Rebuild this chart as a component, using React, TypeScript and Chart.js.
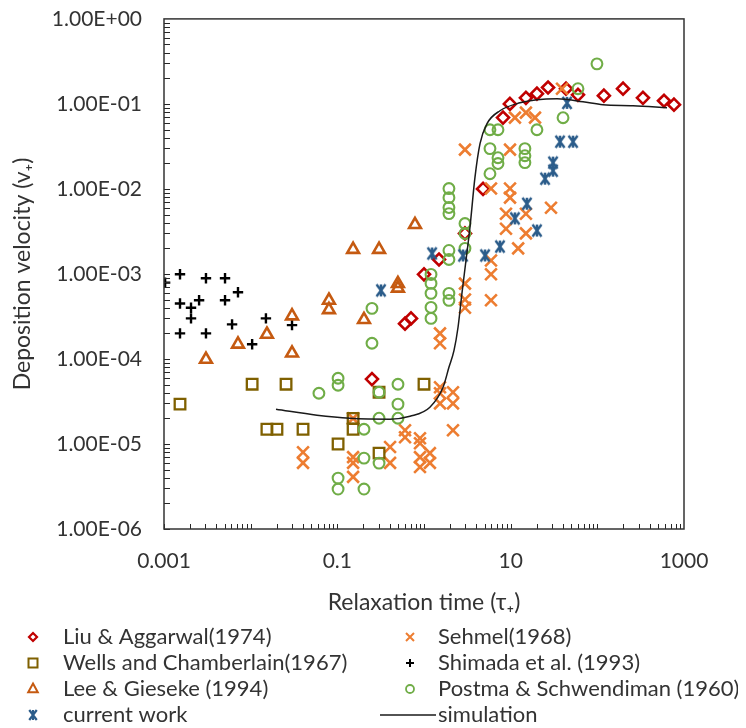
import React, { useEffect, useRef } from 'react';
import { Chart, registerables } from 'chart.js';
Chart.register(...registerables);

const FONT = "Lato, 'DejaVu Sans', sans-serif";
const TEXT = '#333333';

// ---- axis ticks ----
const xTickValues = [0.001, 0.1, 10, 1000];
const yTickValues = [1e-6, 1e-5, 1e-4, 1e-3, 1e-2, 1e-1, 1];

// ---- series data (relaxation time tau+, deposition velocity v+) ----
const liuTau = [0.251, 0.604, 0.708, 1.0, 1.49, 2.97, 4.8, 8.16, 9.8, 15, 20.1, 27, 43.5, 59.8, 119, 198, 336, 588, 766];
const liuVel = [5.8e-5, 2.6e-4, 3.0e-4, 9.9e-4, 1.48e-3, 3.0e-3, 1.0e-2, 6.9e-2, 0.1, 0.118, 0.132, 0.156, 0.151, 0.128, 0.125, 0.151, 0.118, 0.109, 0.098];

const wellsTau = [0.00153, 0.0104, 0.0256, 0.0154, 0.0201, 0.0402, 0.152, 0.152, 0.102, 0.303, 0.303, 1.0];
const wellsVel = [2.94e-5, 5.05e-5, 5.05e-5, 1.49e-5, 1.49e-5, 1.49e-5, 2.0e-5, 1.49e-5, 1.0e-5, 4.06e-5, 7.8e-6, 5.05e-5];

const leeTau = [0.00305, 0.00714, 0.0154, 0.03, 0.03, 0.08, 0.08, 0.152, 0.203, 0.303, 0.5, 0.5, 0.787];
const leeVel = [9.9e-5, 1.49e-4, 1.95e-4, 3.2e-4, 1.17e-4, 4.9e-4, 3.8e-4, 1.94e-3, 2.9e-4, 1.94e-3, 7.7e-4, 6.8e-4, 3.8e-3];

const currentTau = [0.319, 1.24, 2.82, 5.06, 7.53, 11.2, 15.4, 20.1, 24.9, 30.8, 30.8, 37.1, 52.4, 44.7];
const currentVel = [6.4e-4, 1.74e-3, 1.65e-3, 1.65e-3, 2.1e-3, 4.5e-3, 6.7e-3, 3.24e-3, 1.32e-2, 2.04e-2, 1.64e-2, 3.6e-2, 3.6e-2, 0.103];

const sehmelTau = [0.0402, 0.0402, 0.152, 0.152, 0.152, 0.152, 0.406, 0.406, 0.604, 0.604, 0.899, 0.899, 0.899, 0.899, 1.17, 1.17, 1.53, 1.53, 1.53, 1.53, 1.53, 2.16, 2.16, 2.16, 2.97, 2.97, 2.97, 2.97, 5.93, 5.93, 5.93, 5.93, 8.83, 8.83, 9.83, 9.83, 9.83, 11.2, 15.0, 19.1, 15.0, 15.0, 12.2, 29.2, 39.1];
const sehmelVel = [8.0e-6, 6.0e-6, 2.0e-5, 7.0e-6, 6.0e-6, 4.1e-6, 9.2e-6, 6.0e-6, 1.45e-5, 1.2e-5, 1.17e-5, 1.02e-5, 7.0e-6, 5.35e-6, 7.8e-6, 6.0e-6, 2.0e-4, 1.53e-4, 4.65e-5, 3.95e-5, 3.0e-5, 4.06e-5, 3.0e-5, 1.45e-5, 7.7e-4, 5.0e-4, 4.0e-4, 2.9e-2, 1.44e-3, 9.9e-4, 4.9e-4, 1.01e-2, 5.1e-3, 3.4e-3, 2.9e-2, 1.01e-2, 7.9e-3, 6.9e-2, 7.9e-2, 6.9e-2, 5.1e-3, 3.0e-3, 2.0e-3, 6.0e-3, 0.151];

const shimadaTau = [0.00103, 0.00153, 0.00153, 0.00153, 0.00205, 0.00205, 0.00254, 0.00305, 0.00305, 0.00506, 0.00506, 0.0061, 0.00714, 0.0104, 0.015, 0.03];
const shimadaVel = [7.9e-4, 9.9e-4, 4.5e-4, 2.0e-4, 4.0e-4, 3.0e-4, 4.9e-4, 8.9e-4, 2.0e-4, 8.9e-4, 4.9e-4, 2.55e-4, 6.1e-4, 1.49e-4, 3.0e-4, 2.5e-4];

const postmaTau = [0.0613, 0.102, 0.102, 0.102, 0.102, 0.203, 0.203, 0.203, 0.251, 0.251, 0.303, 0.303, 0.303, 0.501, 0.501, 0.501, 1.205, 1.205, 1.205, 1.205, 1.205, 1.94, 1.94, 1.94, 1.94, 1.94, 1.94, 1.94, 1.94, 2.97, 2.97, 2.97, 5.77, 7.14, 5.77, 7.14, 7.14, 5.77, 14.6, 14.6, 14.6, 20.1, 40.2, 59.8, 99];
const postmaVel = [3.95e-5, 5.93e-5, 4.91e-5, 3.97e-6, 2.95e-6, 1.49e-5, 6.82e-6, 2.95e-6, 3.94e-4, 1.53e-4, 4.06e-5, 2.01e-5, 5.96e-6, 5.04e-5, 2.94e-5, 2.01e-5, 9.87e-4, 7.74e-4, 5.91e-4, 4.04e-4, 3.0e-4, 1.01e-2, 7.9e-3, 6.04e-3, 5.13e-3, 1.89e-3, 1.48e-3, 5.91e-4, 4.89e-4, 3.92e-3, 2.99e-3, 2.0e-3, 4.97e-2, 4.97e-2, 2.98e-2, 2.33e-2, 1.99e-2, 1.51e-2, 2.98e-2, 2.46e-2, 2.04e-2, 4.97e-2, 6.88e-2, 0.151, 0.296];

const simTau = [0.0196, 0.0582, 0.14, 0.406, 0.689, 1.17, 1.66, 1.94, 2.22, 2.47, 2.74, 3.05, 3.39, 3.87, 4.43, 5.33, 7.53, 12.8, 20.1, 34.3, 68.3, 116, 258, 637];
const simVel = [2.56e-5, 2.18e-5, 2.01e-5, 1.96e-5, 2.12e-5, 2.71e-5, 4.65e-5, 7.98e-5, 1.26e-4, 2.36e-4, 5.91e-4, 1.44e-3, 3.52e-3, 1.36e-2, 3.41e-2, 5.85e-2, 8.31e-2, 0.103, 0.112, 0.115, 0.106, 0.0978, 0.0952, 0.0902];

const zip = (xs: number[], ys: number[]) => xs.map((x, i) => ({ x, y: ys[i] }));

function fmtSci(v: number) {
  const e = Math.round(Math.log10(v));
  const m = v / Math.pow(10, e);
  return m.toFixed(2) + 'E' + (e < 0 ? '-' : '+') + String(Math.abs(e)).padStart(2, '0');
}

const C_LIU = '#C00000';
const C_WELLS = '#7F6000';
const C_LEE = '#C55A11';
const C_CUR = '#2B5C8A';
const C_SEH = '#ED7D31';
const C_SHI = '#000000';
const C_POS = '#70AD47';
const C_SIM = '#1a1a1a';

function makeStar(size: number, color: string, lw: number) {
  const c = document.createElement('canvas');
  c.width = size; c.height = size;
  const g = c.getContext('2d')!;
  g.strokeStyle = color; g.lineWidth = lw;
  const m = size / 2, a = size / 2 - 2;
  g.beginPath();
  g.moveTo(m - a * 0.75, m - a); g.lineTo(m + a * 0.75, m + a);
  g.moveTo(m + a * 0.75, m - a); g.lineTo(m - a * 0.75, m + a);
  g.moveTo(m, m - a); g.lineTo(m, m + a);
  g.stroke();
  return c;
}

function drawMarker(ctx: CanvasRenderingContext2D, style: string, x: number, y: number, r: number, color: string, lw: number) {
  ctx.save();
  ctx.strokeStyle = color; ctx.lineWidth = lw;
  ctx.beginPath();
  if (style === 'rectRot') {
    ctx.moveTo(x, y - r); ctx.lineTo(x + r, y); ctx.lineTo(x, y + r); ctx.lineTo(x - r, y); ctx.closePath();
  } else if (style === 'rect') {
    ctx.rect(x - r, y - r, 2 * r, 2 * r);
  } else if (style === 'triangle') {
    ctx.moveTo(x, y - r); ctx.lineTo(x + r * 0.87, y + r * 0.6); ctx.lineTo(x - r * 0.87, y + r * 0.6); ctx.closePath();
  } else if (style === 'circle') {
    ctx.arc(x, y, r, 0, Math.PI * 2);
  } else if (style === 'crossRot') {
    ctx.moveTo(x - r, y - r); ctx.lineTo(x + r, y + r); ctx.moveTo(x + r, y - r); ctx.lineTo(x - r, y + r);
  } else if (style === 'cross') {
    ctx.moveTo(x - r, y); ctx.lineTo(x + r, y); ctx.moveTo(x, y - r); ctx.lineTo(x, y + r);
  } else if (style === 'star') {
    ctx.moveTo(x - r * 0.75, y - r); ctx.lineTo(x + r * 0.75, y + r); ctx.moveTo(x + r * 0.75, y - r); ctx.lineTo(x - r * 0.75, y + r);
    ctx.moveTo(x, y - r); ctx.lineTo(x, y + r);
  }
  ctx.stroke();
  ctx.restore();
}

const legendCol1 = ['Liu & Aggarwal(1974)', 'Wells and Chamberlain(1967)', 'Lee & Gieseke (1994)', 'current work'];
const legendCol2 = ['Sehmel(1968)', 'Shimada et al. (1993)', 'Postma & Schwendiman (1960)', 'simulation'];

const framePlugin = {
  id: 'frameTicks',
  afterDatasetsDraw(chart: any) {
    const { ctx, chartArea, scales } = chart;
    const { left, right, top, bottom } = chartArea;
    const xs = scales.x, ys = scales.y;
    ctx.save();
    ctx.strokeStyle = '#262626';
    ctx.lineWidth = 1;
    ctx.beginPath();
    for (let k = -3; k <= 2; k++) {
      for (let m = 1; m <= 9; m++) {
        const px = Math.round(xs.getPixelForValue(m * Math.pow(10, k))) + 0.5;
        ctx.moveTo(px, bottom); ctx.lineTo(px, bottom - 5);
      }
    }
    for (let k = -6; k <= -1; k++) {
      for (let m = 1; m <= 9; m++) {
        const py = Math.round(ys.getPixelForValue(m * Math.pow(10, k))) + 0.5;
        ctx.moveTo(left, py); ctx.lineTo(left + 6, py);
      }
    }
    ctx.stroke();
    ctx.lineWidth = 1.5;
    ctx.strokeStyle = '#333333';
    ctx.strokeRect(left, top, right - left, bottom - top);
    ctx.restore();
  },
  afterDraw(chart: any) {
    const { ctx } = chart;
    const rows = [629, 655, 681, 707];
    const styles1 = [['rectRot', C_LIU, 4, 2.2], ['rect', C_WELLS, 4.5, 2], ['triangle', C_LEE, 5.5, 2], ['star', C_CUR, 5, 2.2]];
    const styles2 = [['crossRot', C_SEH, 4, 2], ['cross', C_SHI, 4, 2], ['circle', C_POS, 4, 1.8]];
    ctx.save();
    ctx.font = `22px ${FONT}`;
    ctx.fillStyle = TEXT;
    ctx.textBaseline = 'middle';
    ctx.textAlign = 'left';
    legendCol1.forEach((t, i) => {
      const s: any = styles1[i];
      drawMarker(ctx, s[0], 25, rows[i], s[2], s[1], s[3]);
      ctx.fillText(t, 55, rows[i]);
    });
    legendCol2.forEach((t, i) => {
      if (i < 3) {
        const s: any = styles2[i];
        drawMarker(ctx, s[0], 402, rows[i], s[2], s[1], s[3]);
      } else {
        ctx.save();
        ctx.strokeStyle = C_SIM; ctx.lineWidth = 1.5;
        ctx.beginPath(); ctx.moveTo(372, rows[i]); ctx.lineTo(428, rows[i]); ctx.stroke();
        ctx.restore();
      }
      ctx.fillText(t, 430, rows[i]);
    });
    ctx.restore();
  },
};

export default function App() {
  const ref = useRef<HTMLCanvasElement>(null);
  useEffect(() => {
    const star = makeStar(16, C_CUR, 2.5);
    const base = { showLine: false, pointBackgroundColor: 'rgba(0,0,0,0)', backgroundColor: 'rgba(0,0,0,0)' };
    const datasets: any[] = [
      { ...base, label: 'Liu & Aggarwal(1974)', data: zip(liuTau, liuVel), pointStyle: 'rectRot', pointRadius: 6, pointBorderWidth: 2.6, pointBorderColor: C_LIU, borderColor: C_LIU },
      { ...base, label: 'Sehmel(1968)', data: zip(sehmelTau, sehmelVel), pointStyle: 'crossRot', pointRadius: 8.3, pointBorderWidth: 2.6, pointBorderColor: C_SEH, borderColor: C_SEH },
      { ...base, label: 'Wells and Chamberlain(1967)', data: zip(wellsTau, wellsVel), pointStyle: 'rect', pointRadius: 7.5, pointBorderWidth: 2.3, pointBorderColor: C_WELLS, borderColor: C_WELLS },
      { ...base, label: 'Shimada et al. (1993)', data: zip(shimadaTau, shimadaVel), pointStyle: 'cross', pointRadius: 5.2, pointBorderWidth: 2.4, pointBorderColor: C_SHI, borderColor: C_SHI },
      { ...base, label: 'Lee & Gieseke (1994)', data: zip(leeTau, leeVel), pointStyle: 'triangle', pointRadius: 6.8, pointBorderWidth: 2.6, pointBorderColor: C_LEE, borderColor: C_LEE },
      { ...base, label: 'Postma & Schwendiman (1960)', data: zip(postmaTau, postmaVel), pointStyle: 'circle', pointRadius: 5.4, pointBorderWidth: 2.1, pointBorderColor: C_POS, borderColor: C_POS },
      { ...base, label: 'current work', data: zip(currentTau, currentVel), pointStyle: star, pointRadius: 6, pointBorderColor: C_CUR, borderColor: C_CUR },
      { label: 'simulation', data: zip(simTau, simVel), showLine: true, pointRadius: 0, borderColor: C_SIM, borderWidth: 1.5, cubicInterpolationMode: 'monotone', fill: false },
    ];
    datasets.forEach((d, i) => { d.order = datasets.length - i; });

    const chart = new Chart(ref.current!, {
      type: 'scatter',
      data: { datasets },
      plugins: [framePlugin],
      options: {
        animation: false,
        responsive: false,
        events: [],
        layout: { padding: { left: 0, right: 54, top: 10, bottom: 109 } },
        plugins: { legend: { display: false }, tooltip: { enabled: false } },
        scales: {
          x: {
            type: 'logarithmic',
            position: 'bottom',
            min: 0.001,
            max: 1000,
            grid: { display: false, drawTicks: false },
            border: { display: false },
            ticks: { font: { family: FONT, size: 21 }, color: TEXT, padding: 20, autoSkip: false, maxRotation: 0, callback: (v: any) => String(v) },
            afterBuildTicks: (s: any) => { s.ticks = xTickValues.map((v) => ({ value: v })); },
            afterFit: (s: any) => { s.height = 90; },
            title: { display: true, text: 'Relaxation time (τ₊)', font: { family: FONT, size: 23 }, color: TEXT, padding: { top: 0, bottom: 3 } },
          },
          y: {
            type: 'logarithmic',
            position: 'left',
            min: 1e-6,
            max: 1,
            grid: { display: false, drawTicks: false },
            border: { display: false },
            ticks: { font: { family: FONT, size: 21 }, color: TEXT, padding: 22, autoSkip: false, callback: (v: any) => fmtSci(Number(v)) },
            afterBuildTicks: (s: any) => { s.ticks = yTickValues.map((v) => ({ value: v })); },
            afterFit: (s: any) => { s.width = 156; s.paddingTop = 0; s.paddingBottom = 0; },
            title: { display: true, text: 'Deposition velocity (v₊)', font: { family: FONT, size: 23 }, color: TEXT, padding: { top: 1, bottom: 0 } },
          },
        },
      } as any,
    });
    return () => chart.destroy();
  }, []);
  return (
    <div style={{ width: 730, height: 720 }}>
      <canvas ref={ref} width={730} height={720} style={{ display: 'block' }} />
    </div>
  );
}
